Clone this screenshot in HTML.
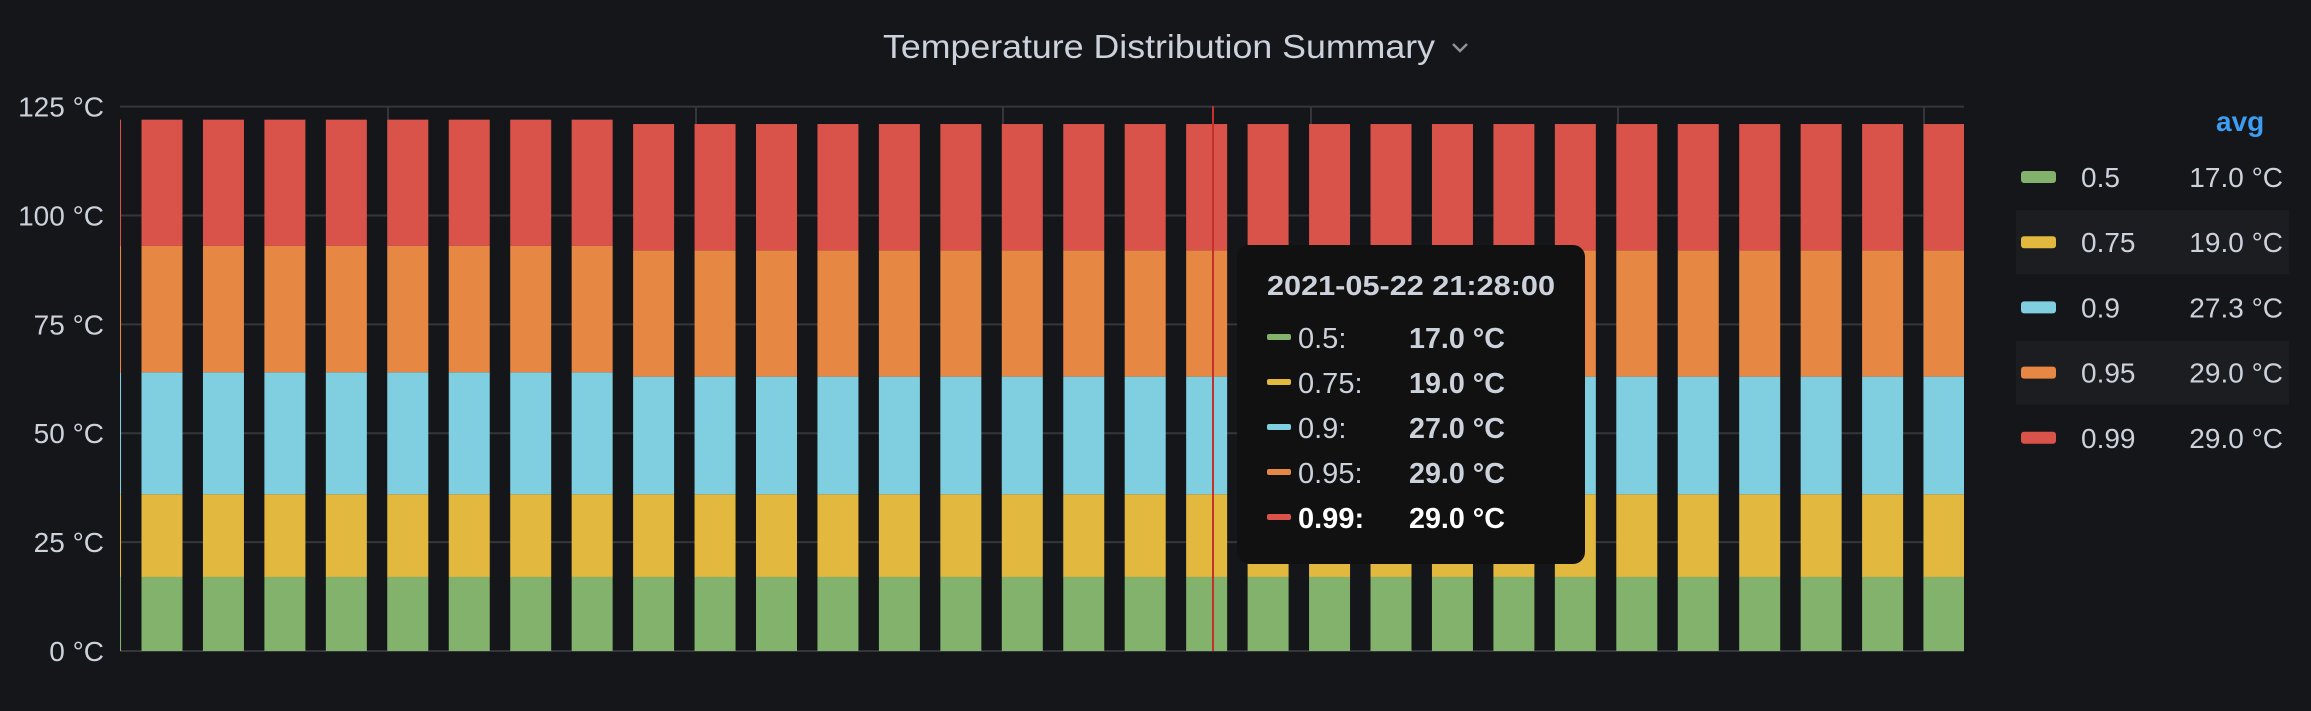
<!DOCTYPE html>
<html><head><meta charset="utf-8"><style>
html,body{margin:0;padding:0;background:#141619;width:2311px;height:711px;overflow:hidden}
svg{display:block;font-family:"Liberation Sans",sans-serif}
</style></head><body>
<svg id="chart" width="2311" height="711" viewBox="0 0 2311 711">
<text x="883" y="58" font-size="33" fill="#ccd2dc" textLength="552" lengthAdjust="spacingAndGlyphs">Temperature Distribution Summary</text>
<path d="M1453 44 L1460 51 L1467 44" stroke="#8e9298" stroke-width="2.5" fill="none"/>
<g id="grid"></g>
<g id="bars"></g>
<g id="yaxis"></g>
<line x1="1213" y1="106" x2="1213" y2="651" stroke="#c4302b" stroke-width="2"/>
<g id="tooltip"></g>
<g id="legend"></g>
</svg>
<script>
const NS="http://www.w3.org/2000/svg";
const seriesNames=["0.5","0.75","0.9","0.95","0.99"];
const seriesColors=["#82b26c","#e3b83f","#7fcfe0","#e68744","#d9534a"];
const s050=[17,17,17,17,17,17,17,17,17,17,17,17,17,17,17,17,17,17,17,17,17,17,17,17,17,17,17,17,17,17,17];
const s075=[19,19,19,19,19,19,19,19,19,19,19,19,19,19,19,19,19,19,19,19,19,19,19,19,19,19,19,19,19,19,19];
const s090=[28,28,28,28,28,28,28,28,28,27,27,27,27,27,27,27,27,27,27,27,27,27,27,27,27,27,27,27,27,27,27];
const s095=[29,29,29,29,29,29,29,29,29,29,29,29,29,29,29,29,29,29,29,29,29,29,29,29,29,29,29,29,29,29,29];
const s099=[29,29,29,29,29,29,29,29,29,29,29,29,29,29,29,29,29,29,29,29,29,29,29,29,29,29,29,29,29,29,29];
const yTicks=[0,25,50,75,100,125];
const legendAvg=["17.0 °C","19.0 °C","27.3 °C","29.0 °C","29.0 °C"];
const tooltipTime="2021-05-22 21:28:00";
const tooltipVals=["17.0 °C","19.0 °C","27.0 °C","29.0 °C","29.0 °C"];
const series=[s050,s075,s090,s095,s099];

const PL=120,PR=1964,PT=106.6,PB=651,YMAX=125;
const y=v=>PB-(v/YMAX)*(PB-PT);
const pitch=61.45,bw=41,x0=80.05;
const x=i=>x0+i*pitch;
function el(t,a,p){const e=document.createElementNS(NS,t);for(const k in a)e.setAttribute(k,a[k]);p.appendChild(e);return e;}
const grid=document.getElementById('grid'),bars=document.getElementById('bars'),yax=document.getElementById('yaxis');
yTicks.forEach(t=>{
 const l=el('line',{x1:PL,x2:PR,y1:y(t),y2:y(t),stroke:'#34363b','stroke-width':2},grid);
 
 
 const tx=el('text',{x:104,y:y(t)+10,'text-anchor':'end','font-size':28,fill:'#ccd2dc'},yax);
 tx.textContent=t+' °C';
 
 
});
[388,696,1003,1311,1618,1924].forEach(gx=>{
 const l=el('line',{x1:gx,x2:gx,y1:PT,y2:PB,stroke:'#34363b','stroke-width':2},grid);
 
 
});
const clip=el('clipPath',{id:'pc'},document.getElementById('chart'));
el('rect',{x:PL,y:0,width:PR-PL,height:711},clip);
bars.setAttribute('clip-path','url(#pc)');
for(let i=0;i<s050.length;i++){
 let acc=0;
 series.forEach((s,k)=>{
  const b=acc,tp=acc+s[i];acc=tp;
  const r=el('rect',{x:x(i),y:y(tp),width:bw,height:y(b)-y(tp),fill:seriesColors[k]},bars);
  
  
 });
}
const tt=document.getElementById('tooltip');
el('rect',{x:1237,y:245,width:348,height:319,rx:12,fill:'#111111'},tt);
const tt1=el('text',{x:1267,y:295,'font-size':28,'font-weight':'bold',fill:'#ccd2dc',textLength:288,lengthAdjust:'spacingAndGlyphs'},tt);
tt1.textContent=tooltipTime;


seriesNames.forEach((n,k)=>{
 const by=348+k*45;
 el('rect',{x:1267,y:by-14,width:24,height:6,rx:2,fill:seriesColors[k]},tt);
 const lb=el('text',{x:1298,y:by,'font-size':29,fill:k==4?'#ffffff':'#ccd2dc','font-weight':k==4?'bold':'normal'},tt);
 lb.textContent=n+':';
 
 
 const vv=el('text',{x:1409,y:by,'font-size':29,'font-weight':'bold',fill:k==4?'#ffffff':'#ccd2dc',textLength:96,lengthAdjust:'spacingAndGlyphs'},tt);
 vv.textContent=tooltipVals[k];
 
 
});
const lg=document.getElementById('legend');
const av=el('text',{x:2216,y:131,'font-size':28,'font-weight':'bold',fill:'#3d9df2'},lg);
av.textContent='avg';


seriesNames.forEach((n,k)=>{
 const cy=177+k*65.2;
 if(k%2==1){el('rect',{x:2016,y:cy-32,width:273,height:64,fill:'#1b1d21'},lg);}
 const g=el('g',{},lg);
 
 
 el('rect',{x:2021,y:cy-6,width:35,height:12,rx:3,fill:seriesColors[k]},g);
 const t=el('text',{x:2081,y:cy+10,'font-size':28,fill:'#ccd2dc'},g);t.textContent=n;
 const v=el('text',{x:2283,y:cy+10,'font-size':28,fill:'#ccd2dc','text-anchor':'end'},g);v.textContent=legendAvg[k];
});
</script>
</body></html>
